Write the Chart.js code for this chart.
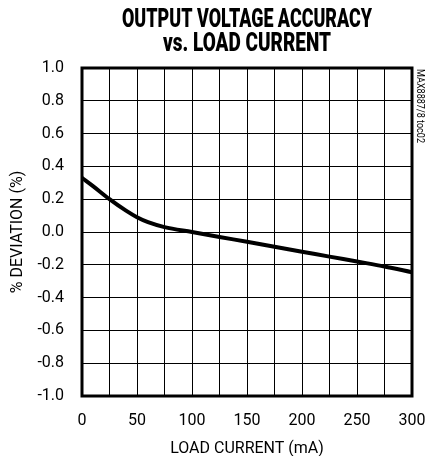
<!DOCTYPE html>
<html>
<head>
<meta charset="utf-8">
<script src="https://cdn.jsdelivr.net/npm/chart.js@4/dist/chart.umd.min.js"></script>
<style>
  html, body { margin: 0; padding: 0; background: #fff; }
  #wrap { width: 427px; height: 456px; position: relative; }
</style>
</head>
<body>
<div id="wrap"><canvas id="c" width="427" height="456"></canvas></div>
<script>
const titleLines = ['OUTPUT VOLTAGE ACCURACY', 'vs. LOAD CURRENT'];
const xAxisTitle = 'LOAD CURRENT (mA)';
const yAxisTitle = '% DEVIATION (%)';
const sideNote = 'MAX8887/8 toc02';

const loadCurrent = [0, 10, 25, 40, 50, 60, 75, 100, 125, 150, 175, 200, 225, 250, 275, 300];
const deviation   = [0.33, 0.28, 0.20, 0.13, 0.09, 0.06, 0.03, 0.0, -0.03, -0.06, -0.09, -0.12, -0.15, -0.18, -0.21, -0.245];

const xMin = 0, xMax = 300, xGridStep = 25, xLabelStep = 50;
const yMin = -1.0, yMax = 1.0, yStep = 0.2;

const FONT = "Roboto, 'Liberation Sans', sans-serif";

function fitText(ctx, text, x, y, targetW) {
  const w = ctx.measureText(text).width;
  const s = targetW / w;
  ctx.save();
  ctx.translate(x, y);
  ctx.scale(s, 1);
  ctx.fillText(text, 0, 0);
  ctx.restore();
}

const frameAndText = {
  id: 'frameAndText',
  afterDraw(chart) {
    const ctx = chart.ctx;
    const a = chart.chartArea;
    ctx.save();
    ctx.strokeStyle = '#000';
    ctx.lineWidth = 3;
    ctx.strokeRect(a.left, a.top, a.right - a.left, a.bottom - a.top);

    // title
    ctx.fillStyle = '#000';
    ctx.textAlign = 'center';
    ctx.textBaseline = 'alphabetic';
    ctx.font = "900 25px " + FONT;
    const cx = (a.left + a.right) / 2;
    fitText(ctx, titleLines[0], cx, 27, 250);
    fitText(ctx, titleLines[1], cx, 51, 168);

    // side note
    ctx.save();
    ctx.font = "11px " + FONT;
    ctx.translate(420, a.top + 1);
    ctx.rotate(Math.PI / 2);
    ctx.textAlign = 'left';
    ctx.textBaseline = 'middle';
    fitText(ctx, sideNote, 0, 0, 74);
    ctx.restore();
    ctx.restore();
  }
};

new Chart(document.getElementById('c'), {
  type: 'line',
  data: {
    datasets: [{
      data: loadCurrent.map((x, i) => ({ x: x, y: deviation[i] })),
      borderColor: '#000',
      borderWidth: 4,
      pointRadius: 0,
      cubicInterpolationMode: 'monotone',
      fill: false
    }]
  },
  options: {
    responsive: false,
    animation: false,
    devicePixelRatio: 1,
    layout: { padding: { top: 68, right: 15, left: 8, bottom: 1 } },
    plugins: { legend: { display: false }, tooltip: { enabled: false }, title: { display: false } },
    scales: {
      x: {
        type: 'linear',
        min: xMin, max: xMax,
        grid: { color: '#000', lineWidth: 1, drawTicks: false },
        border: { display: false },
        ticks: {
          stepSize: xGridStep,
          autoSkip: false,
          maxRotation: 0,
          padding: 15,
          color: '#000',
          font: { family: FONT, size: 16 },
          callback: v => (v % xLabelStep === 0 ? String(v) : '')
        },
        title: { display: true, text: xAxisTitle, color: '#000', font: { family: FONT, size: 16, lineHeight: 0.8 }, padding: 0 },
        afterFit: s => { s.height = 59; s.paddingLeft = 0; s.paddingRight = 0; }
      },
      y: {
        min: yMin, max: yMax,
        grid: { color: '#000', lineWidth: 1, drawTicks: false },
        border: { display: false },
        ticks: {
          stepSize: yStep,
          padding: 18,
          color: '#000',
          font: { family: FONT, size: 16 },
          callback: v => Number(v).toFixed(1)
        },
        title: { display: true, text: yAxisTitle, color: '#000', font: { family: FONT, size: 16 }, padding: 0 },
        afterFit: s => { s.width = 74; s.paddingTop = 0; s.paddingBottom = 0; }
      }
    }
  },
  plugins: [frameAndText]
});
</script>
</body>
</html>
